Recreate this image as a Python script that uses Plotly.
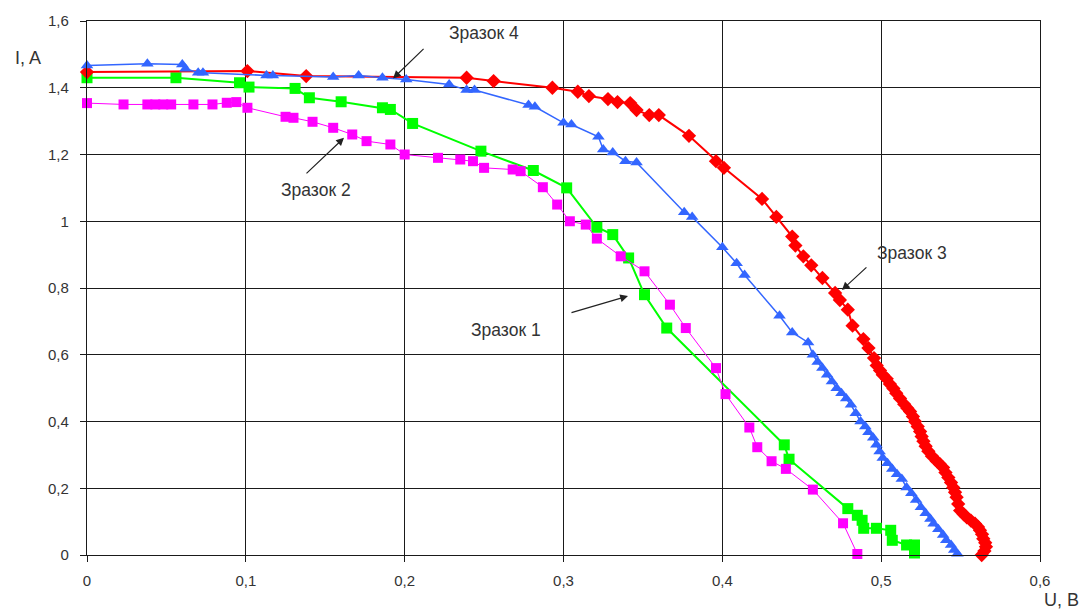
import plotly.graph_objects as go

# ---------------- data ----------------
# Зразок 1 (green squares)
U1 = [0.000, 0.056, 0.096, 0.102, 0.131, 0.140, 0.160, 0.186, 0.191, 0.205, 0.248, 0.281,
      0.302, 0.321, 0.331, 0.341, 0.351, 0.365, 0.439, 0.442, 0.479, 0.485, 0.488, 0.489,
      0.497, 0.506, 0.507, 0.516, 0.521, 0.521]
I1 = [1.430, 1.430, 1.415, 1.402, 1.398, 1.370, 1.358, 1.340, 1.335, 1.293, 1.210, 1.152,
      1.100, 0.982, 0.960, 0.890, 0.780, 0.680, 0.330, 0.287, 0.139, 0.119, 0.104, 0.080,
      0.080, 0.074, 0.044, 0.030, 0.030, 0.006]

# Зразок 2 (magenta squares)
U2 = [0.000, 0.023, 0.038, 0.043, 0.048, 0.053, 0.067, 0.079, 0.088, 0.094, 0.101, 0.125,
      0.130, 0.142, 0.155, 0.167, 0.176, 0.191, 0.200, 0.221, 0.235, 0.243, 0.250, 0.268,
      0.273, 0.287, 0.296, 0.304, 0.314, 0.321, 0.336, 0.351, 0.367, 0.377, 0.396, 0.402,
      0.417, 0.422, 0.431, 0.440, 0.457, 0.476, 0.485]
I2 = [1.354, 1.350, 1.350, 1.350, 1.350, 1.350, 1.350, 1.350, 1.355, 1.357, 1.340, 1.313,
      1.310, 1.298, 1.280, 1.260, 1.240, 1.230, 1.200, 1.190, 1.185, 1.180, 1.160, 1.155,
      1.150, 1.102, 1.050, 1.000, 0.990, 0.948, 0.895, 0.850, 0.750, 0.680, 0.560, 0.482,
      0.382, 0.323, 0.281, 0.258, 0.196, 0.095, 0.003]

# Зразок 3 (red diamonds)
U3 = [0.000, 0.101, 0.138, 0.239, 0.256, 0.293, 0.309, 0.316, 0.328, 0.334, 0.342, 0.346,
      0.354, 0.360, 0.379, 0.396, 0.401, 0.425, 0.434, 0.444, 0.446, 0.451, 0.456, 0.463,
      0.471, 0.474, 0.479, 0.482, 0.4888, 0.492, 0.4955, 0.4972, 0.4993, 0.501, 0.5035,
      0.5055, 0.5077, 0.5095, 0.5119, 0.5145, 0.5165, 0.5182, 0.520, 0.5213, 0.523, 0.5245,
      0.5255, 0.5266, 0.528, 0.5297, 0.532, 0.535, 0.537, 0.539, 0.5405, 0.5423, 0.544,
      0.5454, 0.5465, 0.5475, 0.5485, 0.5497, 0.552, 0.5539, 0.5565, 0.5591, 0.561, 0.5622,
      0.5635, 0.5643, 0.5655, 0.566, 0.565, 0.5633]
I3 = [1.447, 1.450, 1.435, 1.430, 1.420, 1.400, 1.388, 1.375, 1.366, 1.357, 1.354, 1.333,
      1.318, 1.318, 1.256, 1.180, 1.160, 1.067, 1.013, 0.954, 0.927, 0.895, 0.868, 0.830,
      0.785, 0.764, 0.735, 0.687, 0.647, 0.620, 0.590, 0.568, 0.553, 0.540, 0.528,
      0.512, 0.499, 0.485, 0.469, 0.452, 0.440, 0.430, 0.415, 0.400, 0.385, 0.370,
      0.355, 0.341, 0.326, 0.311, 0.296, 0.281, 0.272, 0.262, 0.247, 0.232, 0.217,
      0.202, 0.188, 0.173, 0.153, 0.133, 0.122, 0.113, 0.103, 0.094, 0.084, 0.074,
      0.062, 0.049, 0.037, 0.025, 0.012, 0.000]

# Зразок 4 (blue triangles)
U4 = [0.000, 0.038, 0.060, 0.062, 0.070, 0.073, 0.113, 0.117, 0.155, 0.171, 0.186, 0.201,
      0.228, 0.239, 0.244, 0.278, 0.282, 0.300, 0.305, 0.322, 0.325, 0.331, 0.339, 0.346,
      0.376, 0.381, 0.400, 0.409, 0.414, 0.436, 0.444, 0.454, 0.457, 0.460, 0.463, 0.466,
      0.469, 0.472, 0.475, 0.478, 0.481, 0.484, 0.487, 0.490, 0.492, 0.495, 0.497, 0.499,
      0.501, 0.504, 0.507, 0.510, 0.513, 0.516, 0.519, 0.522, 0.525, 0.528, 0.531, 0.533,
      0.536, 0.539, 0.541, 0.544, 0.546, 0.548]
I4 = [1.467, 1.472, 1.470, 1.457, 1.445, 1.445, 1.437, 1.437, 1.432, 1.437, 1.430, 1.425,
      1.410, 1.393, 1.393, 1.348, 1.343, 1.295, 1.290, 1.253, 1.215, 1.206, 1.180, 1.176,
      1.027, 1.013, 0.922, 0.874, 0.839, 0.717, 0.667, 0.637, 0.600, 0.578, 0.560, 0.540,
      0.520, 0.500, 0.485, 0.469, 0.450, 0.425, 0.400, 0.385, 0.368, 0.351, 0.330, 0.310,
      0.291, 0.275, 0.258, 0.242, 0.228, 0.202, 0.185, 0.165, 0.143, 0.125, 0.108, 0.094,
      0.077, 0.060, 0.044, 0.030, 0.015, 0.004]

x_tickvals = [0, 0.1, 0.2, 0.3, 0.4, 0.5, 0.6]
x_ticktext = ["0", "0,1", "0,2", "0,3", "0,4", "0,5", "0,6"]
y_tickvals = [0, 0.2, 0.4, 0.6, 0.8, 1.0, 1.2, 1.4, 1.6]
y_ticktext = ["0", "0,2", "0,4", "0,6", "0,8", "1", "1,2", "1,4", "1,6"]

# ---------------- figure ----------------
fig = go.Figure()

fig.add_trace(go.Scatter(x=U1, y=I1, mode="lines+markers", name="Зразок 1",
                         line=dict(color="#00FF00", width=2),
                         marker=dict(symbol="square", size=11, color="#00FF00"),
                         cliponaxis=False))
fig.add_trace(go.Scatter(x=U2, y=I2, mode="lines+markers", name="Зразок 2",
                         line=dict(color="#FF00FF", width=1),
                         marker=dict(symbol="square", size=10, color="#FF00FF"),
                         cliponaxis=False))
fig.add_trace(go.Scatter(x=U3, y=I3, mode="lines+markers", name="Зразок 3",
                         line=dict(color="#FF0000", width=2),
                         marker=dict(symbol="diamond", size=11, color="#FF0000"),
                         cliponaxis=False))
fig.add_trace(go.Scatter(x=U4, y=I4, mode="lines+markers", name="Зразок 4",
                         line=dict(color="#3366FF", width=1.5),
                         marker=dict(symbol="triangle-up", size=11, color="#3366FF"),
                         cliponaxis=False))

font_family = "Liberation Sans, Arial, sans-serif"
txt_color = "#333333"

axis_common = dict(showgrid=True, gridcolor="#1a1a1a", gridwidth=1.3,
                   showline=True, linecolor="#1a1a1a", linewidth=1.3, mirror=True,
                   zeroline=False, ticks="outside", ticklen=6, tickwidth=1.3,
                   tickcolor="#1a1a1a",
                   tickfont=dict(family=font_family, size=15, color=txt_color))

fig.update_xaxes(range=[0, 0.6], tickvals=x_tickvals, ticktext=x_ticktext,
                 ticklabelstandoff=6, **axis_common)
fig.update_yaxes(range=[0, 1.6], tickvals=y_tickvals, ticktext=y_ticktext,
                 ticklabelstandoff=8, **axis_common)

annotations = []
# labels
for text, x, y in [("Зразок 4", 0.250, 1.564), ("Зразок 2", 0.1442, 1.093),
                   ("Зразок 1", 0.2638, 0.6756), ("Зразок 3", 0.5194, 0.9037)]:
    annotations.append(dict(x=x, y=y, xref="x", yref="y", text=text, showarrow=False,
                            xanchor="center", yanchor="middle",
                            font=dict(family=font_family, size=17.5, color=txt_color)))
# arrows (tip in data coords, tail offset in px)
for x, y, ax, ay in [(0.1927, 1.428, 32, -31), (0.1618, 1.250, -39, 37),
                     (0.3406, 0.776, -58, 17), (0.4753, 0.794, 26, -24)]:
    annotations.append(dict(x=x, y=y, xref="x", yref="y", ax=ax, ay=ay, text="",
                            showarrow=True, arrowhead=2, arrowsize=1.3, arrowwidth=1.2,
                            arrowcolor="#222222"))

W, H = 1087, 616
ml, mr, mt, mb = 87, 47, 15, 61
pw, ph = W - ml - mr, H - mt - mb
# axis titles (positions given in page pixels, converted to paper coords)
for text, px, py in [("I, A", 28, 52), ("U, B", 1061, 601)]:
    annotations.append(dict(x=(px - ml) / pw, y=(H - py - mb) / ph,
                            xref="paper", yref="paper", text=text, showarrow=False,
                            xanchor="center", yanchor="middle",
                            font=dict(family=font_family, size=18, color=txt_color)))

fig.update_layout(width=W, height=H, margin=dict(l=ml, r=mr, t=mt, b=mb),
                  paper_bgcolor="white", plot_bgcolor="white", showlegend=False,
                  annotations=annotations,
                  font=dict(family=font_family, color=txt_color))

fig.write_html("out.html", config={"displayModeBar": False},
               post_script="document.body.style.margin='0';document.body.style.overflow='hidden';")
